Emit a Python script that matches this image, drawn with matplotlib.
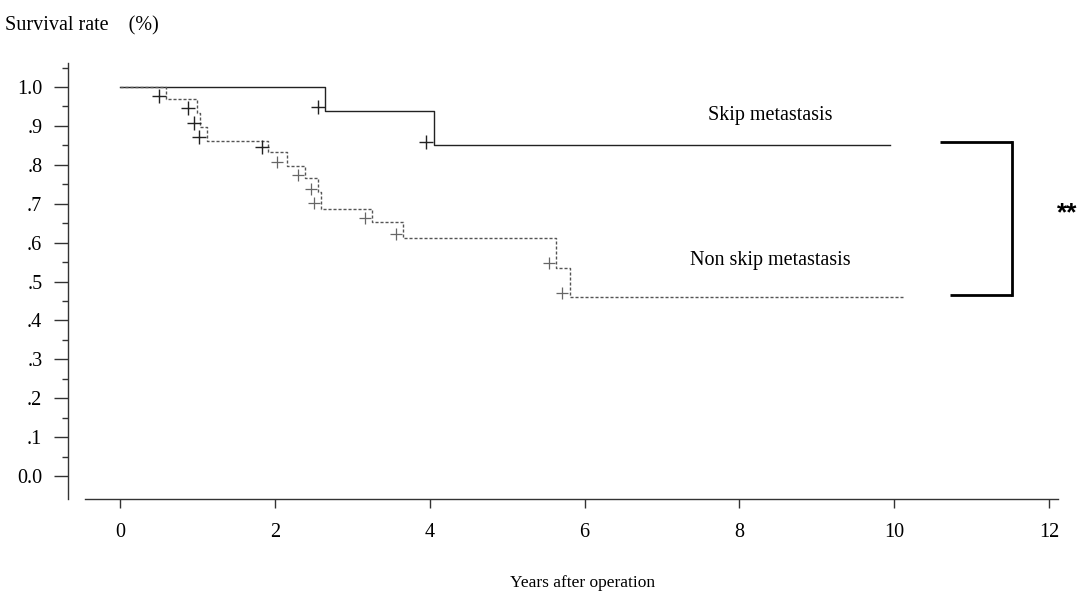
import matplotlib
matplotlib.use("Agg")
import matplotlib.pyplot as plt
from matplotlib.ticker import FixedLocator

# ── Data ──────────────────────────────────────────────────────────────────────
# Skip metastasis (solid)
skip_t = [0.0, 2.65, 4.05, 9.95]
skip_s = [1.0, 0.938, 0.851, 0.851]
skip_cens_t = [2.56, 3.95]
skip_cens_s = [0.948, 0.859]

# Non skip metastasis (dotted)
non_t = [0.0, 0.59, 0.99, 1.03, 1.12, 1.91, 2.16, 2.39, 2.56, 2.60,
         3.25, 3.66, 5.63, 5.81, 10.12]
non_s = [1.0, 0.968, 0.933, 0.897, 0.862, 0.833, 0.798, 0.765, 0.729, 0.686,
         0.652, 0.611, 0.535, 0.461, 0.461]
non_cens_t = [0.50, 0.88, 0.96, 1.02, 1.83, 2.03, 2.30, 2.47, 2.51,
              3.17, 3.57, 5.54, 5.71]
non_cens_s = [0.978, 0.945, 0.908, 0.872, 0.847, 0.808, 0.774, 0.737, 0.701,
              0.663, 0.623, 0.547, 0.471]

y_ticks = [0.0, 0.1, 0.2, 0.3, 0.4, 0.5, 0.6, 0.7, 0.8, 0.9, 1.0]
y_labels = ["0.0", ".1", ".2", ".3", ".4", ".5", ".6", ".7", ".8", ".9", "1.0"]
y_minor = [0.05, 0.15, 0.25, 0.35, 0.45, 0.55, 0.65, 0.75, 0.85, 0.95, 1.05]
x_ticks = [0, 2, 4, 6, 8, 10, 12]

plt.rcParams['font.family'] = ['Liberation Serif', 'DejaVu Serif']

# ── Figure / axes geometry (pixels of the 1077x596 reference) ────────────────
W, H = 1077, 596
fig = plt.figure(figsize=(W / 100, H / 100), dpi=100)
ax = fig.add_axes([68 / W, 1 - 499 / H, (1058 - 68) / W, (499 - 63) / H])
ax.set_xlim(-0.672, 12.116)
ax.set_ylim(-0.0591, 1.0617)

for s in ['top', 'right']:
    ax.spines[s].set_visible(False)
for s in ['left', 'bottom']:
    ax.spines[s].set_linewidth(1.0)
    ax.spines[s].set_color('#333333')
ax.spines['bottom'].set_bounds(-0.452, 12.116)

ax.set_yticks(y_ticks)
ax.set_yticklabels(y_labels)
ax.yaxis.set_minor_locator(FixedLocator(y_minor))
ax.set_xticks(x_ticks)
ax.tick_params(axis='y', which='major', length=10, width=1.0, pad=8.5,
               labelsize=14.5, color='#333333')
ax.tick_params(axis='y', which='minor', length=4.3, width=1.0, color='#333333')
ax.tick_params(axis='x', which='major', length=6.5, width=1.0, pad=10.5,
               labelsize=14.5, color='#333333')

# ── Curves ────────────────────────────────────────────────────────────────────
ax.step(skip_t, skip_s, where='post', color='#222222', linewidth=1.0)
ax.step(non_t, non_s, where='post', color='#555555', linewidth=1.0,
        linestyle=(0, (2.2, 1.4)))

ax.plot(skip_cens_t, skip_cens_s, linestyle='none', marker='+',
        markersize=10, markeredgewidth=1.0, color='#222222')
ax.plot(non_cens_t[:5], non_cens_s[:5], linestyle='none', marker='+',
        markersize=10, markeredgewidth=1.0, color='#222222')
ax.plot(non_cens_t[5:], non_cens_s[5:], linestyle='none', marker='+',
        markersize=8, markeredgewidth=0.9, color='#666666')

# ── Labels ────────────────────────────────────────────────────────────────────
ax.text(8.40, 0.928, "Skip metastasis", fontsize=14.5, ha='center', va='center')
ax.text(8.40, 0.553, "Non skip metastasis", fontsize=14.5, ha='center', va='center')

# significance bracket
ax.plot([10.59, 11.52], [0.859, 0.859], color='black', linewidth=2.0,
        solid_capstyle='butt')
ax.plot([11.52, 11.52], [0.859, 0.465], color='black', linewidth=2.0)
ax.plot([10.72, 11.52], [0.465, 0.465], color='black', linewidth=2.0,
        solid_capstyle='butt')
ax.text(12.23, 0.675, "**", fontsize=19, ha='center', va='center',
        family=['Liberation Sans', 'DejaVu Sans'], fontweight='bold',
        clip_on=False)

fig.text(5 / W, 1 - 26 / H, "Survival rate    (%)", fontsize=14.5,
         ha='left', va='center')
fig.text(583 / W, 1 - 583 / H, "Years after operation", fontsize=12.5,
         ha='center', va='center')

fig.savefig("out.png", dpi=100)
